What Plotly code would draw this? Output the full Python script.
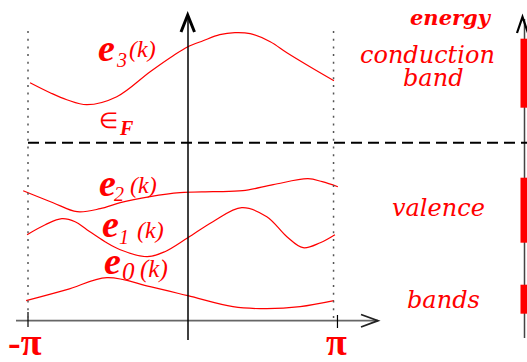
import plotly.graph_objects as go
import math

OFF = 0
W, H = 527, 362

# ---------------- data (k in units of the Brillouin zone, energy arbitrary) -------------
k_e3 = [-3.10, -2.69, -2.35, -1.94, -1.33, -0.65, -0.18, 0.12, 0.43, 0.77, 1.08, 1.39, 1.80, 2.14, 2.61, 3.10]
E_e3 = [2.38, 2.28, 2.21, 2.16, 2.24, 2.49, 2.65, 2.74, 2.80, 2.86, 2.88, 2.87, 2.79, 2.68, 2.54, 2.40]

k_e2 = [-3.24, -2.63, -2.14, -1.67, -1.26, -0.65, -0.04, 0.63, 1.24, 1.86, 2.57, 2.86, 3.18]
E_e2 = [1.30, 1.18, 1.09, 1.12, 1.18, 1.24, 1.28, 1.29, 1.30, 1.36, 1.42, 1.39, 1.34]

k_e1 = [-3.16, -2.79, -2.45, -2.18, -1.94, -1.57, -1.26, -0.71, -0.35, 0.12, 0.63, 1.22, 1.73, 2.14, 2.47, 2.82, 3.12]
E_e1 = [0.86, 0.96, 1.02, 0.99, 0.91, 0.79, 0.71, 0.64, 0.69, 0.83, 0.99, 1.13, 1.04, 0.84, 0.73, 0.78, 0.86]

k_e0 = [-3.18, -2.35, -1.53, -0.65, 0.12, 1.04, 1.73, 2.41, 3.10]
E_e0 = [0.20, 0.31, 0.43, 0.34, 0.25, 0.14, 0.12, 0.14, 0.20]

fermi_E = 1.78

band_names = ["conduction band", "valence", "bands"]
band_bottom = [2.13, 0.78, 0.07]
band_top = [2.82, 1.43, 0.36]

tick_vals = [-math.pi, math.pi]
tick_text = ["-π", "π"]

# ---------------- scales: page pixel <-> data ------------------------------------------
SX = 49.02   # px per unit k
SY = 100.0   # px per unit energy
X0 = -math.pi - (28 - OFF) / SX
X1 = X0 + W / SX
Y1 = 3.207 - OFF / SY
Y0 = Y1 - H / SY


def kx(px):
    return X0 + (px - OFF) / SX


def pp(px, py):
    return (px - OFF) / W, 1 - (py - OFF) / H


RED = "#ff0000"
fig = go.Figure()

for ks, Es in [(k_e3, E_e3), (k_e2, E_e2), (k_e1, E_e1), (k_e0, E_e0)]:
    fig.add_trace(go.Scatter(x=ks, y=Es, mode="lines",
                             line=dict(color=RED, width=1.2, shape="spline", smoothing=1.0),
                             hoverinfo="skip"))

# energy bars on right axis
fig.add_trace(go.Bar(x=[kx(524)] * len(band_bottom), base=band_bottom,
                     y=[t - b for t, b in zip(band_top, band_bottom)],
                     width=[7 / SX] * len(band_bottom),
                     marker=dict(color=RED, line=dict(width=0)),
                     hovertext=band_names, hoverinfo="text"))

shapes = []


def seg(x0, y0, x1, y1, color="black", width=1.5, dash=None, layer="above"):
    a, b = pp(x0, y0)
    c, d = pp(x1, y1)
    ln = dict(color=color, width=width)
    if dash:
        ln["dash"] = dash
    shapes.append(dict(type="line", xref="paper", yref="paper", x0=a, y0=b, x1=c, y1=d,
                       line=ln, layer=layer))


def chev(pts, color="black", width=2):
    s = ""
    for i, (x, y) in enumerate(pts):
        a, b = pp(x, y)
        s += ("M" if i == 0 else "L") + f"{a:.5f},{b:.5f} "
    shapes.append(dict(type="path", xref="paper", yref="paper", path=s,
                       line=dict(color=color, width=width)))


def vline_k(k, py0, py1, color, width, dash=None):
    ln = dict(color=color, width=width)
    if dash:
        ln["dash"] = dash
    shapes.append(dict(type="line", xref="x", yref="paper", x0=k, x1=k,
                       y0=1 - (py0 - OFF) / H, y1=1 - (py1 - OFF) / H, line=ln))


# horizontal k axis
seg(16, 320.7, 378, 320.7, color="#666666", width=1.8)
chev([(361, 314.5), (378, 320.7), (361, 327)], color="#222222", width=1.8)
# ticks at -pi, pi
vline_k(tick_vals[0], 312, 327, "black", 1.2)
vline_k(tick_vals[1] + 0.03, 315, 328, "black", 1.2)
# dotted zone boundaries
vline_k(tick_vals[0], 31, 318, "#555555", 1.5, "2px,5.7px")
vline_k(tick_vals[1] - 0.05, 31, 318, "#555555", 1.5, "2px,5.7px")
# vertical axis with arrow
seg(188, 340, 188, 17, color="black", width=1.5)
chev([(181, 32), (187.7, 15), (194.5, 32)], color="black", width=3)
# right energy axis (under the red bars)
seg(524.5, 338, 524.5, 19, color="#444444", width=1.5, layer="below")
chev([(517, 33), (522.5, 17), (528, 33)], color="black", width=2.2)
# Fermi level
shapes.append(dict(type="line", xref="x", yref="y", x0=tick_vals[0], x1=X1, y0=fermi_E, y1=fermi_E,
                   line=dict(color="black", width=2, dash="11px,6px")))

ann = []


def txt(px, py, s, size, family="Liberation Serif", color=RED):
    a, b = pp(px, py)
    ann.append(dict(x=a, y=b, xref="paper", yref="paper", text=s, showarrow=False,
                    xanchor="center", yanchor="middle",
                    font=dict(family=family, size=size, color=color)))


# band labels
for (ex, ey_), (sx, sy), (kx_, ky), sub, ssz in [
        ((106, 47.5), (121, 60.5), (142.5, 49), "3", 20),
        ((107.5, 183.5), (119, 194), (143.5, 185), "2", 20),
        ((110.5, 223.5), (124, 237), (150, 230), "1", 20),
        ((112.5, 261), (128, 271), (154, 269), "0", 25)]:
    txt(ex, ey_, "<b><i>e</i></b>", 38)
    txt(sx, sy, "<i>" + sub + "</i>", ssz)
    txt(kx_, ky, "<i>(k)</i>", 24 if sub != "0" else 25)

# Fermi label
txt(108, 120, "∈", 22)
txt(126, 128, "<b><i>F</i></b>", 20)

# right side texts
txt(451, 17, "<b><i>energy</i></b>", 21, family="DejaVu Serif")
txt(427, 55, "<i>conduction</i>", 24, family="DejaVu Serif")
txt(433, 78, "<i>band</i>", 24, family="DejaVu Serif")
txt(438, 208, "<i>valence</i>", 24, family="DejaVu Serif")
txt(443, 300, "<i>bands</i>", 24, family="DejaVu Serif")

# tick labels
for kv, tt in zip(tick_vals, tick_text):
    a = (kv - X0) / (X1 - X0)
    ann.append(dict(x=a + (-0.006 if kv < 0 else 0.0), y=1 - (342 - OFF) / H, xref="paper", yref="paper",
                    text="<b>" + tt + "</b>", showarrow=False, xanchor="center", yanchor="middle",
                    font=dict(family="Liberation Serif", size=38, color=RED)))

fig.update_layout(
    width=W, height=H, autosize=False,
    margin=dict(l=0, r=0, t=0, b=0),
    paper_bgcolor="white", plot_bgcolor="rgba(0,0,0,0)",
    showlegend=False, barmode="overlay",
    xaxis=dict(range=[X0, X1], visible=False, fixedrange=True),
    yaxis=dict(range=[Y0, Y1], visible=False, fixedrange=True),
    shapes=shapes, annotations=ann,
)

fig.write_html("out.html", config={"displayModeBar": False},
               post_script="document.body.style.margin='0px';document.body.style.overflow='hidden';")
